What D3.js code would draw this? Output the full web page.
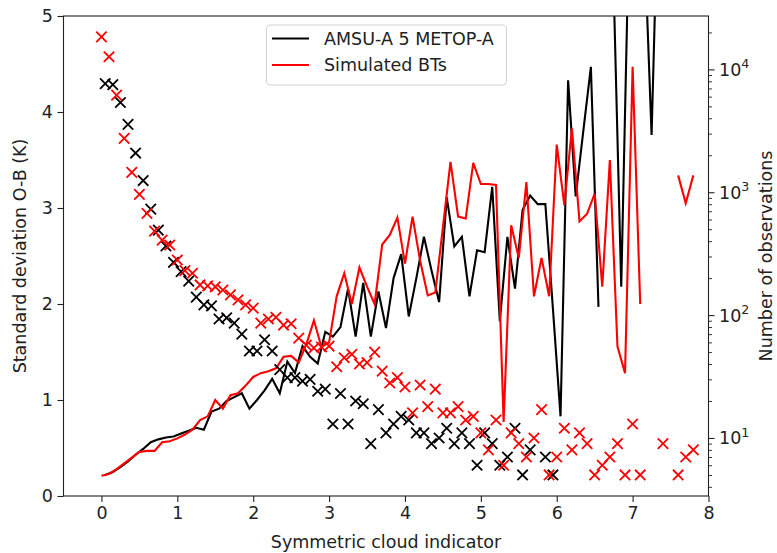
<!DOCTYPE html>
<html><head><meta charset="utf-8">
<script src="https://cdn.jsdelivr.net/npm/d3@7"></script>
<style>
html,body{margin:0;padding:0;background:#fff;}
text{font-family:"DejaVu Sans",sans-serif;}
</style></head>
<body><svg id="c" width="777" height="553"></svg>
<script>
// ---------- data ----------
const sciRed = [0,0.1,0.2,0.3,0.4,0.5,0.6,0.7,0.8,0.9,1.0,1.1,1.2,1.3,1.4,1.5,1.6,1.7,1.8,1.9,2.0,2.1,2.2,2.3,2.4,2.5,2.6,2.7,2.8,2.9,3.0,3.1,3.2,3.3,3.4,3.5,3.6,3.7,3.8,3.9,4.0,4.1,4.2,4.3,4.4,4.5,4.6,4.7,4.8,4.9,5.0,5.1,5.2,5.3,5.4,5.5,5.6,5.7,5.8,5.9,6.0,6.1,6.2,6.3,6.4,6.5,6.6,6.7,6.8,6.9,7.0,7.1,7.2,7.3,7.4,7.5,7.6,7.7,7.8];
const sciBlack = [0.05,0.15,0.25,0.35,0.45,0.55,0.65,0.75,0.85,0.95,1.05,1.15,1.25,1.35,1.45,1.55,1.65,1.75,1.85,1.95,2.05,2.15,2.25,2.35,2.45,2.55,2.65,2.75,2.85,2.95,3.05,3.15,3.25,3.35,3.45,3.55,3.65,3.75,3.85,3.95,4.05,4.15,4.25,4.35,4.45,4.55,4.65,4.75,4.85,4.95,5.05,5.15,5.25,5.35,5.45,5.55,5.65,5.75,5.85,5.95,6.05,6.15,6.25,6.35,6.45,6.55,6.65,6.75,6.85,6.95,7.05,7.15,7.25,7.35];

// standard deviation O-B (K)
const stdObs = [0.22,0.25,0.30,0.36,0.43,0.49,0.56,0.59,0.61,0.62,0.65,0.68,0.71,0.69,0.88,0.91,0.99,1.03,1.07,0.91,1.00,1.10,1.22,1.07,1.40,1.28,1.56,1.45,1.38,1.71,1.66,1.76,2.16,1.66,2.22,1.66,2.13,1.75,2.27,2.52,1.87,2.27,2.70,2.35,2.02,3.11,2.60,2.70,2.08,2.56,2.54,3.22,1.82,2.70,2.16,2.98,3.13,3.04,3.04,1.95,0.83,4.33,3.12,3.80,4.47,1.97,null,5.3,2.18,5.8,6.5,5.9,3.76,6.7];
const stdSim = [0.21,0.23,0.28,0.34,0.40,0.46,0.47,0.47,0.56,0.57,0.60,0.64,0.69,0.79,0.83,1.00,0.91,1.05,1.07,1.15,1.24,1.28,1.30,1.33,1.45,1.46,1.39,1.58,1.83,1.55,1.60,2.08,2.32,2.00,2.38,2.18,2.00,2.62,2.72,2.90,2.42,2.91,2.45,2.09,2.12,2.80,3.48,2.91,2.89,3.47,3.25,3.25,3.24,0.77,2.82,2.48,3.27,2.08,2.48,2.08,3.66,3.03,3.83,2.86,2.94,3.15,2.18,3.50,1.56,1.28,4.47,2.00,null,null,null,null,3.34,3.05,3.34];

// number of observations
const nObs = [7660,7520,5380,3570,2085,1245,728,492,365,269,226,189,140,121,119,93,95,86,70,51,51,63,51,36,31,31,29,30,24,25,13,23,13,20,19,9,17,11,13,15,14,11,11,9,10,12,9,11,9,6,11,9,6,7,12,5,8,null,7,5];
const nSim = [18400,12670,6180,2745,1452,961,673,483,408,372,281,230,219,176,173,170,160,146,133,121,114,86,93,96,83,85,65,57,54,55,56,38,45,48,40,41,50,35,28,31,26,16,27,18,25,16,16,18,14,15,11,8,14,6,11,9,7,10,17,5,7,12,8,11,9,5,6,7,9,5,13,5,null,null,9,null,5,7,8];

const xTicks = [0,1,2,3,4,5,6,7,8];
const yTicks = [0,1,2,3,4,5];
const rTicks = [10,100,1000,10000];
const rMinor = [4,5,6,7,8,9,20,30,40,50,60,70,80,90,200,300,400,500,600,700,800,900,2000,3000,4000,5000,6000,7000,8000,9000,20000];
const seriesNames = ["AMSU-A 5 METOP-A","Simulated BTs"];
const seriesColors = ["#000000","#ff0000"];

// ---------- layout ----------
const L=63.5, R=708.5, T=16, B=496, FS=17.5;
const svg = d3.select("#c");
const x = d3.scaleLinear().domain([-0.5,8]).range([L,R]);
const yL = d3.scaleLinear().domain([0,5]).range([B,T]);
const yR = d3.scaleLog().domain([3.37,27200]).range([B,T]);

svg.append("defs").append("clipPath").attr("id","clip")
  .append("rect").attr("x",L).attr("y",T).attr("width",R-L).attr("height",B-T);

const plot = svg.append("g").attr("clip-path","url(#clip)");

function mkLine(xs, ys, color){
  const data = ys.map((v,i)=>({x:xs[i], y:v}));
  plot.append("path").datum(data)
    .attr("fill","none").attr("stroke",color).attr("stroke-width",2.1)
    .attr("stroke-linejoin","miter")
    .attr("d", d3.line().defined(d=>d.y!=null).x(d=>x(d.x)).y(d=>yL(d.y)));
}
mkLine(sciBlack, stdObs, seriesColors[0]);
mkLine(sciRed, stdSim, seriesColors[1]);

const s=5.2;
function mkMarkers(xs, ns, color){
  const data = ns.map((v,i)=>({x:xs[i], n:v})).filter(d=>d.n!=null);
  svg.append("g").selectAll("path").data(data).join("path")
    .attr("d", d=>{const cx=x(d.x), cy=yR(d.n);
      return `M${cx-s},${cy-s}L${cx+s},${cy+s}M${cx-s},${cy+s}L${cx+s},${cy-s}`;})
    .attr("stroke",color).attr("stroke-width",1.8).attr("fill","none");
}
mkMarkers(sciBlack, nObs, seriesColors[0]);
mkMarkers(sciRed, nSim, seriesColors[1]);

// frame
svg.append("rect").attr("x",L).attr("y",T).attr("width",R-L).attr("height",B-T)
  .attr("fill","none").attr("stroke","#222").attr("stroke-width",1.1);

function styleAxis(g){
  g.select(".domain").remove();
  g.selectAll(".tick line").attr("stroke","#222").attr("stroke-width",1.1);
  g.selectAll("text").attr("font-size",FS).attr("fill","#222").attr("font-family","DejaVu Sans");
}
const gx = svg.append("g").attr("transform",`translate(0,${B})`)
  .call(d3.axisBottom(x).tickValues(xTicks).tickSize(6).tickPadding(4.5).tickFormat(d3.format("d")));
styleAxis(gx);
const gy = svg.append("g").attr("transform",`translate(${L},0)`)
  .call(d3.axisLeft(yL).tickValues(yTicks).tickSize(6).tickPadding(4.5).tickFormat(d3.format("d")));
styleAxis(gy);
const gr = svg.append("g").attr("transform",`translate(${R},0)`)
  .call(d3.axisRight(yR).tickValues(rTicks).tickSize(6).tickFormat(""));
styleAxis(gr);
const grm = svg.append("g").attr("transform",`translate(${R},0)`)
  .call(d3.axisRight(yR).tickValues(rMinor).tickSize(3.5).tickFormat(""));
styleAxis(grm);
grm.selectAll(".tick line").attr("stroke-width",0.9);

// right tick labels 10^n
rTicks.forEach(v=>{
  const t = svg.append("text").attr("x",R+10.5).attr("y",yR(v)+6.5)
    .attr("font-size",FS).attr("fill","#222");
  t.append("tspan").text("10");
  t.append("tspan").attr("font-size",FS*0.72).attr("dy",-7.5).text(String(Math.round(Math.log10(v))));
});

// axis labels
svg.append("text").attr("x",(L+R)/2).attr("y",548).attr("text-anchor","middle")
  .attr("font-size",FS).attr("fill","#222").text("Symmetric cloud indicator");
svg.append("text").attr("transform",`translate(26,${(T+B)/2}) rotate(-90)`).attr("text-anchor","middle")
  .attr("font-size",FS).attr("fill","#222").text("Standard deviation O-B (K)");
svg.append("text").attr("transform",`translate(772,${(T+B)/2}) rotate(-90)`).attr("text-anchor","middle")
  .attr("font-size",FS).attr("fill","#222").text("Number of observations");

// legend
const lg = svg.append("g");
lg.append("rect").attr("x",266.5).attr("y",25).attr("width",240).attr("height",60).attr("rx",4)
  .attr("fill","#fff").attr("fill-opacity",0.85).attr("stroke","#d4d4d4").attr("stroke-width",1.1);
seriesNames.forEach((nm,i)=>{
  const yy = 38.5 + i*26.5;
  lg.append("line").attr("x1",272).attr("x2",309).attr("y1",yy).attr("y2",yy)
    .attr("stroke",seriesColors[i]).attr("stroke-width",2.1);
  lg.append("text").attr("x",324).attr("y",yy+6.4).attr("font-size",FS).attr("fill","#222").text(nm);
});
</script></body></html>
